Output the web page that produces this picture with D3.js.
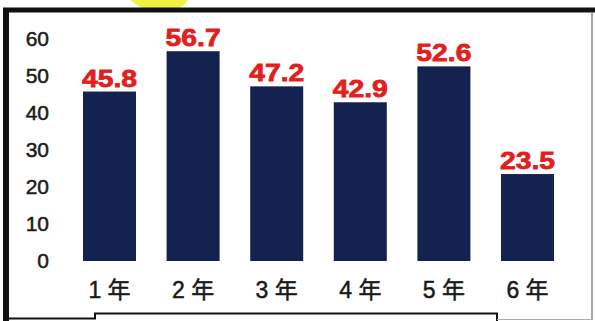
<!DOCTYPE html>
<html>
<head>
<meta charset="utf-8">
<script src="https://cdn.jsdelivr.net/npm/d3@7"></script>
<style>
  html, body { margin: 0; padding: 0; background: #fff; }
  svg { display: block; }
</style>
</head>
<body>
<svg id="chart" width="595" height="321"></svg>
<script>
"use strict"

const grades = ["1 年", "2 年", "3 年", "4 年", "5 年", "6 年"]
const values = [45.8, 56.7, 47.2, 42.9, 52.6, 23.5]
const yTicks = [0, 10, 20, 30, 40, 50, 60]

const svg = d3.select("#chart")
const fontLatin = "'Liberation Sans', Arial, 'Noto Sans CJK JP', sans-serif"

// scanned frame around the chart
const frame = svg.append("g").attr("class", "frame")
frame.append("path")
    .attr("d", "M130,0 L188,0 L184,5 L176,10 L150,11 L138,6 Z")
    .attr("fill", "#f0f02e")
    .attr("opacity", 0.9)
frame.append("line")
    .attr("x1", 3).attr("x2", 595).attr("y1", 10).attr("y2", 10)
    .attr("stroke", "#111").attr("stroke-width", 5)
frame.append("line")
    .attr("x1", 6).attr("x2", 6).attr("y1", 8).attr("y2", 321)
    .attr("stroke", "#111").attr("stroke-width", 6)
frame.append("line")
    .attr("x1", 592).attr("x2", 592).attr("y1", 12).attr("y2", 320)
    .attr("stroke", "#8a8a8a").attr("stroke-width", 1.5)
frame.append("path")
    .attr("d", "M9,318.5 L95,318.5 L95,313.5 L497,313.5 L497,321")
    .attr("fill", "none").attr("stroke", "#111").attr("stroke-width", 2)
frame.append("line")
    .attr("x1", 497).attr("x2", 592).attr("y1", 319.5).attr("y2", 319.5)
    .attr("stroke", "#aaa").attr("stroke-width", 1)

const x = d3.scaleBand()
    .domain(grades)
    .range([67.7, 569.3])
    .paddingInner(0.366)
    .paddingOuter(0.183)

const y = d3.scaleLinear()
    .domain([0, 60])
    .range([261, 39])

const yAxis = d3.axisLeft(y).tickValues(yTicks).tickSize(0).tickPadding(18)
svg.append("g")
    .attr("class", "y axis")
    .attr("transform", "translate(67,0)")
    .call(yAxis)
    .call(g => g.select(".domain").remove())
    .selectAll("text")
    .style("font-family", fontLatin)
    .style("font-size", "21px")
    .attr("fill", "#1a1a1a")
    .attr("stroke", "#1a1a1a")
    .attr("stroke-width", 0.5)

const xAxis = d3.axisBottom(x).tickSize(0).tickPadding(21)
svg.append("g")
    .attr("class", "x axis")
    .attr("transform", "translate(0," + y(0) + ")")
    .call(xAxis)
    .call(g => g.select(".domain").remove())
    .selectAll("text")
    .style("font-family", fontLatin)
    .style("font-size", "23px")
    .attr("fill", "#1a1a1a")
    .attr("stroke", "#1a1a1a")
    .attr("stroke-width", 0.5)

svg.append("g")
    .selectAll("rect")
    .data(values)
    .join("rect")
    .attr("x", (d, i) => x(grades[i]))
    .attr("y", d => y(d))
    .attr("width", x.bandwidth())
    .attr("height", d => y(0) - y(d))
    .attr("fill", "#13224f")

svg.append("g")
    .selectAll("text")
    .data(values)
    .join("text")
    .attr("transform", (d, i) =>
        "translate(" + (x(grades[i]) + x.bandwidth() / 2) + "," + (y(d) - 5) + ") scale(1.18,1)")
    .attr("text-anchor", "middle")
    .style("font-family", fontLatin)
    .style("font-size", "24px")
    .style("font-weight", "bold")
    .attr("fill", "#e21f1f")
    .attr("stroke", "#e21f1f")
    .attr("stroke-width", 0.8)
    .text(d => d.toFixed(1))
</script>
</body>
</html>
